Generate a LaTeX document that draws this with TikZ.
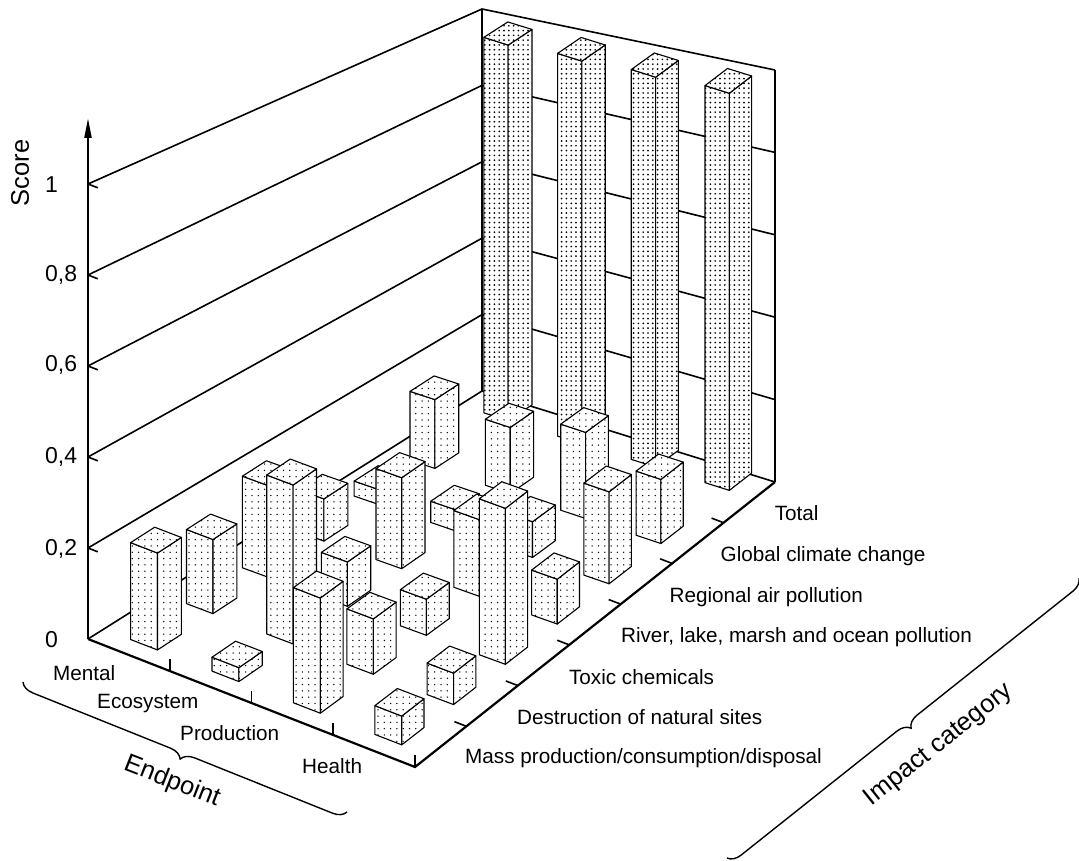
\documentclass[tikz,border=0pt]{standalone}
\usepackage{fontspec}
\setmainfont{Liberation Sans}
\usetikzlibrary{patterns.meta,arrows.meta,decorations.pathreplacing}

% floor point: endpoint position e (0..4), category position c (0..7)
\newcommand\floorpt[3]{%
  \pgfmathsetmacro\flS{(#1)/4}%
  \pgfmathsetmacro\flT{(#2)/7}%
  \pgfmathsetmacro\flX{88+327*\flS+394*\flT-34*\flS*\flT}%
  \pgfmathsetmacro\flY{639+128*\flS-248*\flT-37*\flS*\flT}%
  \coordinate (#3) at (\flX,\flY);}

% pixels per score unit at floor point (e,c)
\newcommand\vscale[2]{%
  \pgfmathsetmacro\flS{(#1)/4}%
  \pgfmathsetmacro\flT{(#2)/7}%
  \pgfmathsetmacro\flK{455*(1-\flS)*(1-\flT)+485*\flS*(1-\flT)+412*\flS*\flT+382*(1-\flS)*\flT}}

% one bar: endpoint column, category row, score, face style
\newcommand\drawbar[4]{%
  \pgfmathsetmacro\bEf{#1+0.66}\pgfmathsetmacro\bEb{#1+0.33}%
  \pgfmathsetmacro\bCf{#2+0.28}\pgfmathsetmacro\bCb{#2+0.71}%
  \floorpt{\bEf}{\bCf}{bF}\floorpt{\bEb}{\bCf}{bL}%
  \floorpt{\bEf}{\bCb}{bR}\floorpt{\bEb}{\bCb}{bK}%
  \vscale{\bEf}{\bCf}\pgfmathsetmacro\bH{#3*\flK}%
  \coordinate (tF) at ([yshift=\bH pt]bF);
  \coordinate (tL) at ([yshift=\bH pt]bL);
  \coordinate (tR) at ([yshift=\bH pt]bR);
  \coordinate (tK) at ([yshift=\bH pt]bK);
  \path[#4] (bL) -- (bF) -- (tF) -- (tL) -- cycle;
  \path[#4] (bF) -- (bR) -- (tR) -- (tF) -- cycle;
  \path[#4] (tL) -- (tF) -- (tR) -- (tK) -- cycle;}

\begin{document}
\begin{tikzpicture}[x=1pt, y=-1pt,
  grid/.style={line width=1.6pt},
  axis/.style={line width=2.2pt},
  face/.style={preaction={fill=white}, draw=black, line width=1.1pt, line join=round},
  lowbar/.style={face, pattern={Dots[distance=6.3pt,radius=0.75pt]}},
  tallbar/.style={face, pattern={Dots[distance=4.8pt,radius=0.95pt]}},
  lbl/.style={font=\fontsize{20.7}{24}\selectfont, inner sep=0pt, anchor=base west},
  num/.style={font=\fontsize{23}{26}\selectfont, inner sep=0pt, anchor=base west},
  big/.style={font=\fontsize{25.5}{30}\selectfont, inner sep=0pt},
  bracestyle/.style={line width=1.4pt, decorate, decoration={brace, mirror, amplitude=13pt}}]

\useasboundingbox (0,0) rectangle (1079,861);

% floor corners and wall tops
\coordinate (A) at (88,639);
\coordinate (B) at (415,767);
\coordinate (C) at (775,482);
\coordinate (D) at (482,391);
\coordinate (Dtop) at (482,9);
\coordinate (Ctop) at (775,70);
\coordinate (Ytip) at (88,118);

% walls with score grid lines
\foreach \L in {0,0.2,0.4,0.6,0.8,1} {
  \draw[grid, line join=miter] (88,{639-455*\L}) -- (482,{391-382*\L}) -- (775,{482-412*\L});
}
\draw[grid] (D) -- (Dtop);
\draw[grid] (C) -- (Ctop);

% bars, back to front
\drawbar{0}{6.32}{0.96}{tallbar}
\drawbar{1}{6.32}{0.96}{tallbar}
\drawbar{0}{5}{0.17}{lowbar}
\drawbar{2}{6.32}{0.96}{tallbar}
\drawbar{0}{4}{0.036}{lowbar}
\drawbar{1}{5}{0.16}{lowbar}
\drawbar{3}{6.32}{0.96}{tallbar}
\drawbar{0}{3}{0.099}{lowbar}
\drawbar{1}{4}{0.05}{lowbar}
\drawbar{2}{5}{0.205}{lowbar}
\drawbar{0}{2}{0.21}{lowbar}
\drawbar{1}{3}{0.21}{lowbar}
\drawbar{2}{4}{0.083}{lowbar}
\drawbar{3}{5}{0.15}{lowbar}
\drawbar{0}{1}{0.166}{lowbar}
\drawbar{1}{2}{0.10}{lowbar}
\drawbar{2}{3}{0.174}{lowbar}
\drawbar{3}{4}{0.21}{lowbar}
\drawbar{0}{0}{0.212}{lowbar}
\drawbar{1}{1}{0.35}{lowbar}
\drawbar{2}{2}{0.08}{lowbar}
\drawbar{3}{3}{0.10}{lowbar}
\drawbar{1}{0}{0.03}{lowbar}
\drawbar{2}{1}{0.12}{lowbar}
\drawbar{3}{2}{0.34}{lowbar}
\drawbar{2}{0}{0.244}{lowbar}
\drawbar{3}{1}{0.067}{lowbar}
\drawbar{3}{0}{0.06}{lowbar}

% axes
\draw[axis, line join=miter] (A) -- (B) -- (C);
\draw[axis, -{Triangle[length=20pt,width=7pt]}] (A) -- (Ytip);

% ticks
\foreach \L in {0.2,0.4,0.6,0.8,1}
  \draw[grid] (88,{639-455*\L}) -- ++(9.8,3.8);
\foreach \e in {1,2,3,4} {
  \floorpt{\e}{0}{tk}
  \draw[grid] (tk) -- ++(0,-12);
}
\foreach \c in {1,...,6} {
  \floorpt{4}{\c}{tk}
  \draw[grid] (tk) -- ++(-12,-4.6);
}

% score labels
\node[num] (s0) at (45,647.5) {0};
\node[num] (s2) at (45,555.5) {0,2};
\node[num] (s4) at (45,463) {0,4};
\node[num] (s6) at (45,371.5) {0,6};
\node[num] (s8) at (45,281.5) {0,8};
\node[num] (s10) at (45,192.5) {1};
\node[big, rotate=90] (score) at (20,173) {Score};

% endpoint labels
\node[lbl] (mental) at (53,680) {Mental};
\node[lbl] (eco) at (97,708) {Ecosystem};
\node[lbl] (prod) at (180,740) {Production};
\node[lbl] (health) at (302,773) {Health};

% impact category labels
\node[lbl] (total) at (774.6,520.5) {Total};
\node[lbl] (global) at (720.5,561.5) {Global climate change};
\node[lbl] (regional) at (669.4,602.5) {Regional air pollution};
\node[lbl] (river) at (620.9,642.5) {River, lake, marsh and ocean pollution};
\node[lbl] (toxic) at (568.9,684.5) {Toxic chemicals};
\node[lbl] (destr) at (516.9,724) {Destruction of natural sites};
\node[lbl] (mass) at (465,763.3) {Mass production/consumption/disposal};

% group braces
\coordinate (ebr1) at (23,682);
\coordinate (ebr2) at (347,812);
\draw[bracestyle] (ebr1) -- (ebr2);
\node[big, rotate=-21.4] (endpoint) at (172,782) {Endpoint};

\coordinate (ibr1) at (727,858);
\coordinate (ibr2) at (1079,578);
\draw[bracestyle] (ibr1) -- (ibr2);
\node[big, rotate=38.5] (impact) at (939,745) {Impact category};
\end{tikzpicture}
\end{document}
